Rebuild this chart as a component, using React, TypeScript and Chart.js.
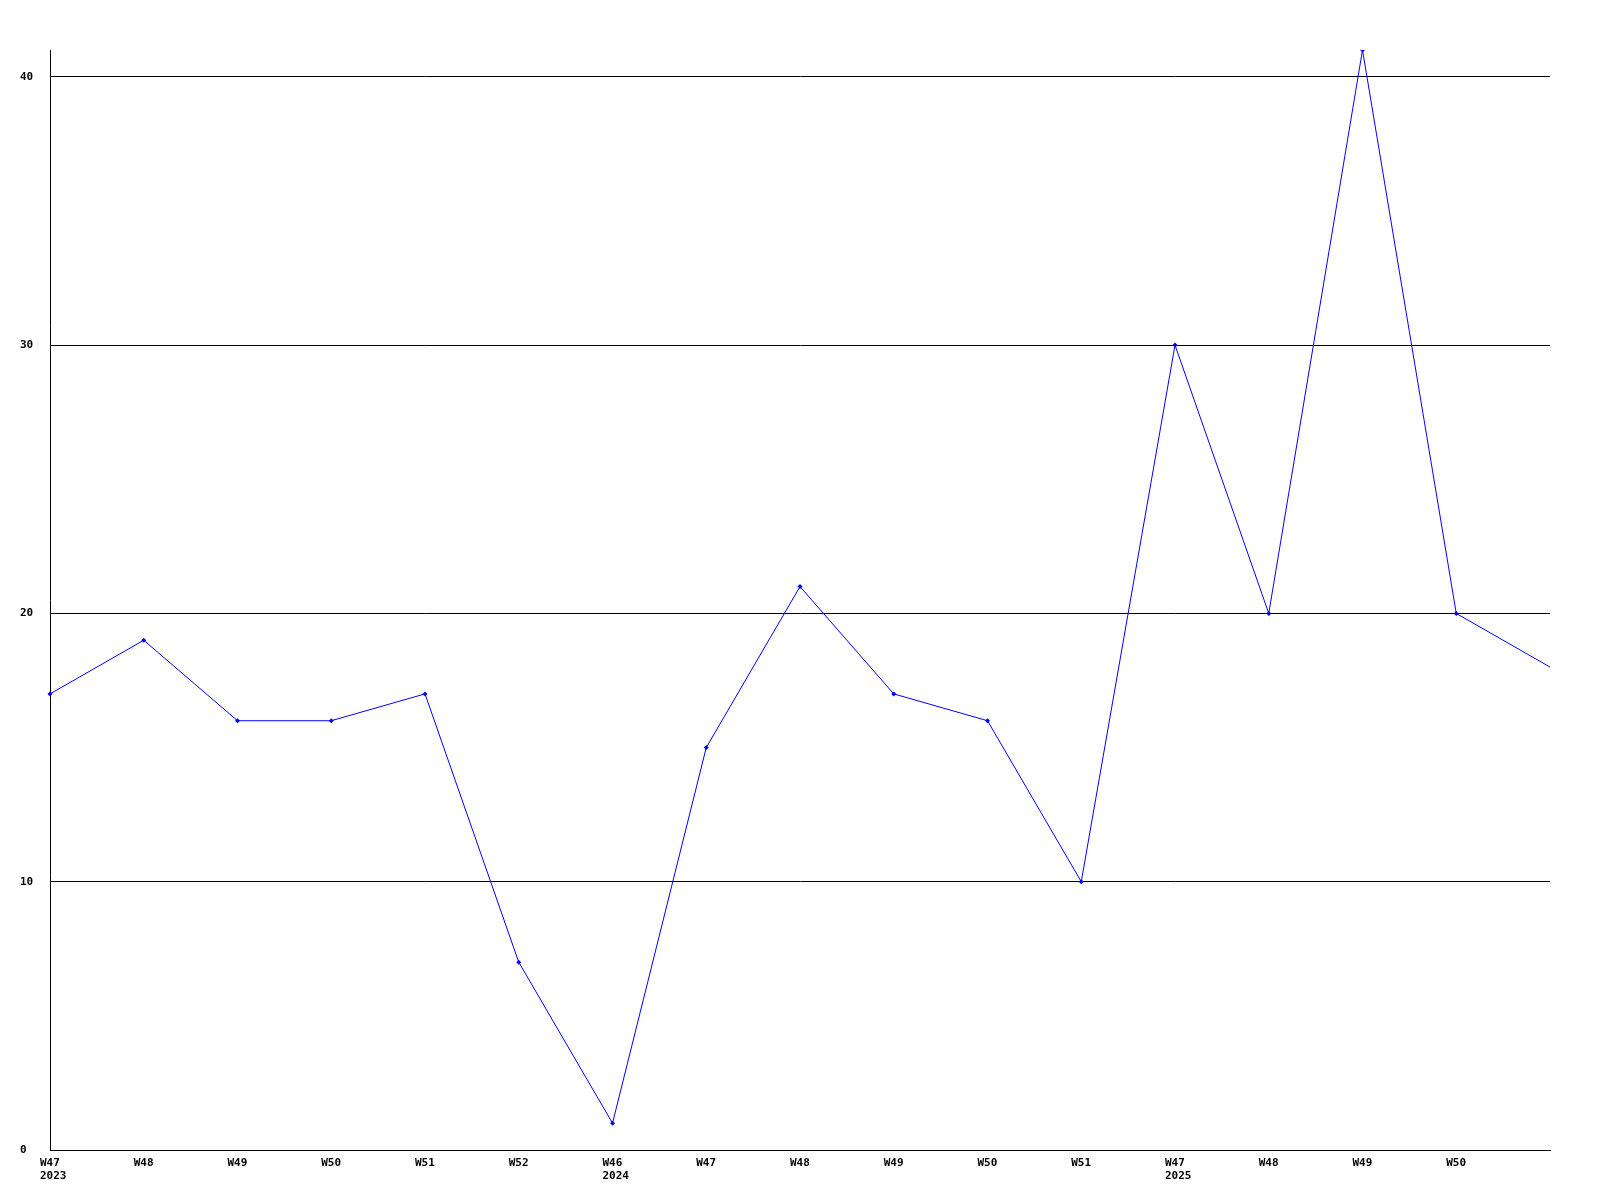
import React, { useEffect, useRef } from "react";
import { Chart, registerables } from "chart.js";

Chart.register(...registerables);

const weekLabels = ["W47", "W48", "W49", "W50", "W51", "W52", "W46", "W47", "W48", "W49", "W50", "W51", "W47", "W48", "W49", "W50", ""];
const yearLabels = ["2023", "", "", "", "", "", "2024", "", "", "", "", "", "2025", "", "", "", ""];
const values = [17, 19, 16, 16, 17, 7, 1, 15, 21, 17, 16, 10, 30, 20, 41, 20, 18];
const yTicks = [0, 10, 20, 30, 40];

export default function App() {
  const ref = useRef<HTMLCanvasElement | null>(null);
  useEffect(() => {
    if (!ref.current) return;
    const labels = weekLabels.map((w, i) => (yearLabels[i] ? [w, yearLabels[i]] : w));
    const font = { family: "'DejaVu Sans Mono', monospace", size: 11, weight: "bold" as const, lineHeight: 1.25 };
    const chart = new Chart(ref.current, {
      type: "line",
      data: {
        labels,
        datasets: [
          {
            data: values,
            borderColor: "#0000ff",
            backgroundColor: "#0000ff",
            borderWidth: 1,
            pointStyle: "rectRot",
            pointRadius: values.map((_, i) => (i === values.length - 1 ? 0 : 2.5)),
            pointBorderWidth: 0,
            tension: 0,
          },
        ],
      },
      options: {
        animation: false,
        responsive: false,
        maintainAspectRatio: false,
        layout: { padding: { left: 20, top: 50, right: 50, bottom: 0 } },
        plugins: { legend: { display: false }, tooltip: { enabled: false } },
        scales: {
          x: {
            type: "category",
            offset: false,
            grid: { display: false, drawTicks: false },
            border: { display: true, color: "#000", width: 1 },
            ticks: { autoSkip: false, maxRotation: 0, minRotation: 0, color: "#000", font, padding: 6, align: "start", labelOffset: -10 },
            afterFit: (s: any) => { s.height = 50; },
          },
          y: {
            min: 0,
            max: 41,
            grid: { color: "#000", lineWidth: 1, drawTicks: false },
            border: { display: true, color: "#000", width: 1 },
            ticks: { color: "#000", font, crossAlign: "far", padding: 0 },
            afterBuildTicks: (s: any) => { s.ticks = yTicks.map((v) => ({ value: v })); },
            afterFit: (s: any) => { s.width = 30; },
          },
        },
      },
    });
    return () => chart.destroy();
  }, []);
  return (
    <div style={{ position: "fixed", left: 0, top: 0, width: 1600, height: 1200, background: "#fff" }}>
      <canvas ref={ref} width={1600} height={1200} style={{ width: 1600, height: 1200 }} />
    </div>
  );
}
